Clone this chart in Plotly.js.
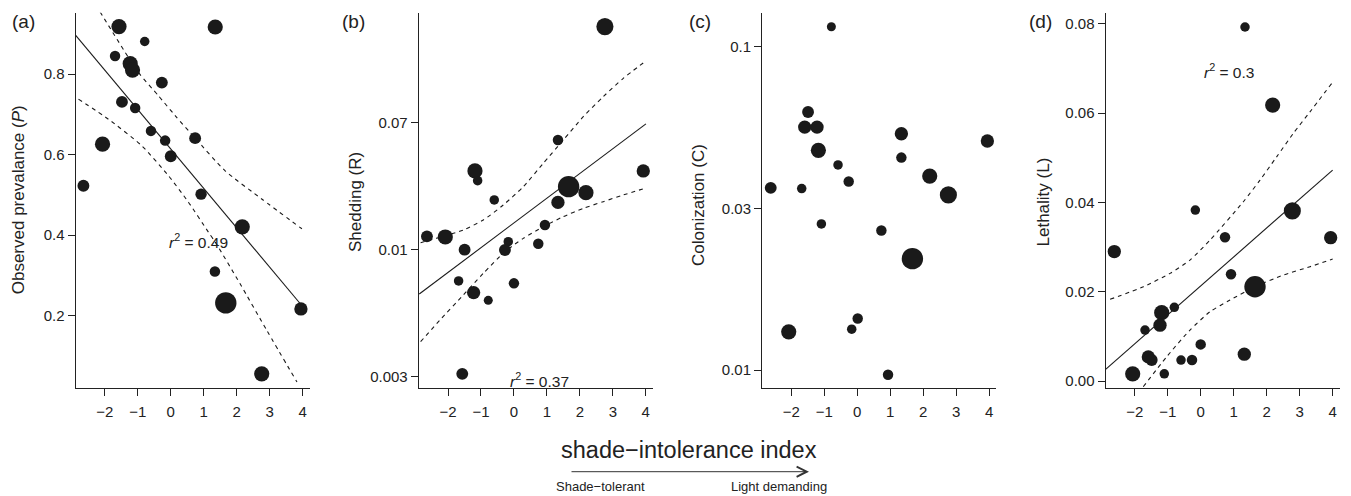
<!DOCTYPE html>
<html><head><meta charset="utf-8">
<script src="https://cdn.plot.ly/plotly-3.0.1.min.js"></script>
<style>html,body{margin:0;padding:0;background:#fff}#chart{width:1351px;height:496px}</style>
</head><body><div id="chart"></div>
<script>
// ---------- shared ----------
const xTicks = [-2, -1, 0, 1, 2, 3, 4];
const xTitle = 'shade\u2212intolerance index';
const arrowLeftLabel = 'Shade\u2212tolerant';
const arrowRightLabel = 'Light demanding';
const panelLabels = ['(a)', '(b)', '(c)', '(d)'];
const yTitles = ['Observed prevalance (<i>P</i>)', 'Shedding (R)', 'Colonization (C)', 'Lethality (L)'];

// ---------- (a) observed prevalence ----------
const aX = [-1.57, 1.35, -0.79, -1.69, -1.23, -1.16, -0.27, -1.48, -1.08, -0.60, -0.17, 0.00, -2.07, -2.65, 0.74, 0.92, 2.17, 1.34, 1.67, 3.95, 2.76];
const aY = [0.918, 0.917, 0.881, 0.845, 0.826, 0.810, 0.779, 0.731, 0.716, 0.659, 0.635, 0.596, 0.626, 0.523, 0.641, 0.502, 0.421, 0.310, 0.232, 0.217, 0.056];
const aW = [1.6, 1.6, 1.0, 1.1, 1.6, 1.6, 1.25, 1.25, 1.1, 1.1, 1.1, 1.25, 1.6, 1.25, 1.25, 1.2, 1.6, 1.1, 2.25, 1.4, 1.6];
const aFitX = [-2.89, 3.95];
const aFitY = [0.897, 0.228];
const aUpX = [-2.143, -0.98, -0.37, 0.134, 0.74, 1.65, 2.76, 3.98];
const aUpY = [0.9545, 0.804, 0.746, 0.697, 0.641, 0.560, 0.490, 0.416];
const aLoX = [-2.80, -1.89, -0.877, -0.07, 0.537, 1.144, 1.35, 2.10, 2.92, 3.83];
const aLoY = [0.738, 0.688, 0.622, 0.548, 0.482, 0.4075, 0.383, 0.280, 0.163, 0.0355];
const aTicks = [0.2, 0.4, 0.6, 0.8];
const aTickText = ['0.2', '0.4', '0.6', '0.8'];
const aR2 = '<i>r</i><sup>2</sup> = 0.49';

// ---------- (b) shedding ----------
const bX = [2.76, 1.335, -1.183, -1.102, -0.597, 3.924, 1.659, 2.184, 1.335, 0.94, -2.64, -2.083, -1.497, -0.172, -0.273, 0.738, -1.679, 0.0, -1.224, -0.779, -1.568];
const bY = [0.302, 0.0534, 0.0333, 0.0287, 0.0214, 0.0333, 0.0262, 0.0239, 0.0206, 0.01458, 0.01226, 0.01214, 0.0100, 0.0113, 0.00995, 0.01096, 0.00620, 0.00598, 0.00519, 0.00461, 0.00150];
const bW = [1.8, 1.1, 1.6, 1.0, 1.0, 1.4, 2.25, 1.6, 1.4, 1.1, 1.25, 1.6, 1.25, 1.0, 1.25, 1.1, 1.0, 1.1, 1.4, 0.95, 1.25];
const bFitX = [-2.873, 4.005];
const bFitY = [0.00508, 0.0683];
const bUpX = [-2.832, -2.245, -1.537, -0.930, -0.324, 0.283, 0.890, 1.497, 2.103, 2.710, 3.317, 3.975];
const bUpY = [0.01113, 0.01208, 0.01351, 0.01574, 0.01978, 0.02618, 0.0374, 0.05341, 0.0763, 0.1036, 0.1371, 0.1768];
const bLoX = [-2.832, -2.245, -1.537, -0.930, -0.273, 0.283, 0.890, 1.497, 2.103, 2.710, 3.317, 3.975];
const bLoY = [0.002452, 0.003413, 0.005003, 0.006966, 0.009699, 0.01189, 0.0142, 0.01656, 0.0188, 0.02083, 0.02306, 0.02553];
const bTicks = [0.00143, 0.01, 0.07];
const bTickText = ['0.003', '0.01', '0.07'];
const bR2 = '<i>r</i><sup>2</sup> = 0.37';

// ---------- (c) colonization ----------
const cX = [-0.785, -1.493, -1.594, -1.220, -1.179, 1.339, 3.948, 1.339, -0.583, -0.259, 2.199, 2.765, -2.625, -1.685, -1.088, 0.732, 1.673, 0.014, -0.168, -2.079, 0.934];
const cY = [0.1153, 0.0628, 0.0564, 0.0564, 0.0478, 0.0538, 0.0511, 0.0454, 0.0431, 0.0383, 0.0398, 0.0348, 0.0366, 0.0364, 0.0283, 0.0270, 0.0221, 0.01444, 0.01338, 0.01313, 0.00967];
const cW = [0.95, 1.25, 1.4, 1.4, 1.6, 1.4, 1.4, 1.1, 1.0, 1.1, 1.6, 1.8, 1.25, 1.0, 1.0, 1.1, 2.25, 1.1, 1.0, 1.6, 1.1];
const cTicks = [0.01, 0.0316, 0.1];
const cTickText = ['0.01', '0.03', '0.1'];

// ---------- (d) lethality ----------
const dX = [1.343, 2.182, 2.779, -0.164, 0.736, 3.942, -2.623, 0.918, 1.646, -0.802, -1.185, -1.236, -1.691, -0.002, 1.321, -1.591, -1.488, -0.599, -0.265, -2.065, -1.106];
const dY = [0.0793, 0.0618, 0.0381, 0.0383, 0.0322, 0.0321, 0.0290, 0.0239, 0.0211, 0.0165, 0.0153, 0.0125, 0.0114, 0.0082, 0.0060, 0.0054, 0.0047, 0.0047, 0.0047, 0.0016, 0.0016];
const dW = [1.0, 1.6, 1.8, 1.0, 1.1, 1.4, 1.4, 1.1, 2.25, 1.0, 1.6, 1.4, 1.0, 1.1, 1.4, 1.4, 1.25, 1.0, 1.1, 1.6, 1.0];
const dFitX = [-2.886, 4.002];
const dFitY = [0.00261, 0.04724];
const dUpX = [-2.75, -1.738, -0.933, -0.326, 0.281, 1.291, 1.798, 2.303, 2.808, 3.315, 3.972];
const dUpY = [0.01829, 0.02112, 0.02411, 0.02709, 0.03157, 0.04015, 0.0450, 0.05022, 0.05546, 0.0603, 0.06664];
const dLoX = [-1.745, -1.033, -0.326, 0.281, 0.888, 1.646, 2.505, 3.314, 4.003];
const dLoY = [-0.00128, 0.00544, 0.01142, 0.01552, 0.01813, 0.02112, 0.02373, 0.0256, 0.02731];
const dTicks = [0.00, 0.02, 0.04, 0.06, 0.08];
const dTickText = ['0.00', '0.02', '0.04', '0.06', '0.08'];
const dR2 = '<i>r</i><sup>2</sup> = 0.3';

// ---------- drawing ----------
const W = 1351, H = 496;
const FONT = 'Liberation Sans, Arial, Helvetica, sans-serif';
const INK = '#1a1a1a';
const BASE = 9.5;
const px = v => v / W;
const py = v => 1 - v / H;

const xDomains = [[75.5, 309.5], [418.7, 652.7], [762, 996], [1105.5, 1339.5]];
const yDomain = [py(387.7), py(12.7)];

const panels = [
  {x: aX, y: aY, w: aW, fit: [aFitX, aFitY], up: [aUpX, aUpY], lo: [aLoX, aLoY]},
  {x: bX, y: bY, w: bW, fit: [bFitX, bFitY], up: [bUpX, bUpY], lo: [bLoX, bLoY]},
  {x: cX, y: cY, w: cW},
  {x: dX, y: dY, w: dW, fit: [dFitX, dFitY], up: [dUpX, dUpY], lo: [dLoX, dLoY]}
];

const traces = [];
panels.forEach((p, i) => {
  const xa = i === 0 ? 'x' : 'x' + (i + 1);
  const ya = i === 0 ? 'y' : 'y' + (i + 1);
  if (p.fit) {
    traces.push({x: p.fit[0], y: p.fit[1], xaxis: xa, yaxis: ya, mode: 'lines', line: {color: INK, width: 1.1}, hoverinfo: 'skip'});
    traces.push({x: p.up[0], y: p.up[1], xaxis: xa, yaxis: ya, mode: 'lines', line: {color: INK, width: 1.1, dash: '4px,4px', shape: 'spline', smoothing: 0.6}, hoverinfo: 'skip'});
    traces.push({x: p.lo[0], y: p.lo[1], xaxis: xa, yaxis: ya, mode: 'lines', line: {color: INK, width: 1.1, dash: '4px,4px', shape: 'spline', smoothing: 0.6}, hoverinfo: 'skip'});
  }
  traces.push({x: p.x, y: p.y, xaxis: xa, yaxis: ya, mode: 'markers', cliponaxis: false,
    marker: {color: INK, opacity: 1, size: p.w.map(v => v * BASE), line: {width: 0}}});
});

function axis(extra) {
  return Object.assign({
    showline: true, linecolor: '#222', linewidth: 1, mirror: false,
    ticks: 'outside', ticklen: 7, tickwidth: 1, tickcolor: '#222',
    showgrid: false, zeroline: false, fixedrange: true,
    tickfont: {family: FONT, size: 15, color: '#222'}
  }, extra);
}

const layout = {
  width: W, height: H, margin: {l: 0, r: 0, t: 0, b: 0},
  paper_bgcolor: '#fff', plot_bgcolor: '#fff', showlegend: false,
  font: {family: FONT, color: '#222'},
  annotations: []
};

const yAxes = [
  {range: [0.0215, 0.9525], tickvals: aTicks, ticktext: aTickText},
  {type: 'log', range: [-2.9158, -0.4276], tickvals: bTicks, ticktext: bTickText},
  {type: 'log', range: [-2.0547, -0.8948], tickvals: cTicks, ticktext: cTickText},
  {range: [-0.0015, 0.0825], tickvals: dTicks, ticktext: dTickText}
];

for (let i = 0; i < 4; i++) {
  const s = i === 0 ? '' : String(i + 1);
  layout['xaxis' + s] = axis({domain: [px(xDomains[i][0]), px(xDomains[i][1])], range: [-2.89, 4.21], tickvals: xTicks, anchor: 'y' + s, ticklabelstandoff: 3});
  layout['yaxis' + s] = axis(Object.assign({domain: yDomain, anchor: 'x' + s}, yAxes[i]));
}

const yTitleX = [18.3, 355, 698, 1042.5];
const yTitleY = [200, 202, 205, 202];
const labelX = [10, 340, 686.7, 1026.7];
for (let i = 0; i < 4; i++) {
  layout.annotations.push({xref: 'paper', yref: 'paper', x: px(labelX[i]), y: py(22), xanchor: 'left', yanchor: 'middle',
    text: panelLabels[i], showarrow: false, font: {family: FONT, size: 19, color: '#222'}});
  layout.annotations.push({xref: 'paper', yref: 'paper', x: px(yTitleX[i]), y: py(yTitleY[i]), xanchor: 'center', yanchor: 'middle',
    textangle: -90, text: yTitles[i], showarrow: false, font: {family: FONT, size: 17, color: '#222'}});
}
// r^2 labels (data coordinates; log axes use log10)
layout.annotations.push({xref: 'x', yref: 'y', x: 0.84, y: 0.385, xanchor: 'center', yanchor: 'middle', text: aR2, showarrow: false, font: {family: FONT, size: 15.5, color: '#222'}});
layout.annotations.push({xref: 'x2', yref: 'y2', x: 0.79, y: -2.865, xanchor: 'center', yanchor: 'middle', text: bR2, showarrow: false, font: {family: FONT, size: 15.5, color: '#222'}});
layout.annotations.push({xref: 'x4', yref: 'y4', x: 0.85, y: 0.0694, xanchor: 'center', yanchor: 'middle', text: dR2, showarrow: false, font: {family: FONT, size: 15.5, color: '#222'}});

// shared x title and arrow
layout.annotations.push({xref: 'paper', yref: 'paper', x: px(689), y: py(450), xanchor: 'center', yanchor: 'middle', text: xTitle, showarrow: false,
  font: {family: FONT, size: 23.5, color: '#222'}});
layout.annotations.push({xref: 'paper', yref: 'paper', x: px(809), y: py(471.7), ax: -239, ay: 0, text: '', showarrow: true,
  arrowhead: 5, arrowsize: 2, arrowwidth: 1, arrowcolor: '#333'});
layout.annotations.push({xref: 'paper', yref: 'paper', x: px(600.5), y: py(486), xanchor: 'center', yanchor: 'middle', text: arrowLeftLabel, showarrow: false,
  font: {family: FONT, size: 13, color: '#222'}});
layout.annotations.push({xref: 'paper', yref: 'paper', x: px(779), y: py(486), xanchor: 'center', yanchor: 'middle', text: arrowRightLabel, showarrow: false,
  font: {family: FONT, size: 13, color: '#222'}});

Plotly.newPlot('chart', traces, layout, {displayModeBar: false, staticPlot: true});
</script></body></html>
